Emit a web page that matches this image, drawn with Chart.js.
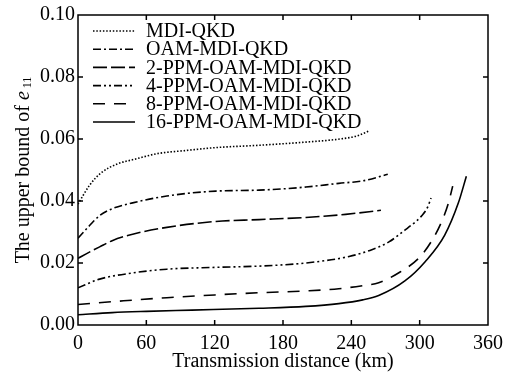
<!DOCTYPE html>
<html>
<head>
<meta charset="utf-8">
<script src="https://cdn.jsdelivr.net/npm/chart.js@4"></script>
<style>
  html, body { margin: 0; padding: 0; background: #fff; }
  #wrap { width: 510px; height: 381px; }
</style>
</head>
<body>
<div id="wrap"><canvas id="chart" width="510" height="381"></canvas></div>
<script>
// Series data (distance in km, upper bound of e11)
const seriesNames = ['MDI-QKD', 'OAM-MDI-QKD', '2-PPM-OAM-MDI-QKD', '4-PPM-OAM-MDI-QKD', '8-PPM-OAM-MDI-QKD', '16-PPM-OAM-MDI-QKD'];

const distMDI = [0, 10, 20, 35, 50, 70, 95, 120, 160, 200, 230, 245, 255];
const valMDI = [0.039, 0.045, 0.049, 0.052, 0.0535, 0.0553, 0.0563, 0.0572, 0.058, 0.059, 0.060, 0.061, 0.0625];

const distOAM = [0, 10, 19, 30, 48, 78, 121, 159, 200, 229, 250, 272];
const valOAM = [0.028, 0.032, 0.0353, 0.0375, 0.0394, 0.0416, 0.0432, 0.0435, 0.0445, 0.0457, 0.0465, 0.0486];

const dist2 = [0, 10, 19, 30, 48, 78, 121, 159, 200, 235, 266];
const val2 = [0.0215, 0.0235, 0.0252, 0.0272, 0.0293, 0.0315, 0.0334, 0.034, 0.0347, 0.0357, 0.037];

const dist4 = [0, 19, 48, 78, 121, 159, 200, 238, 258, 273, 287, 297, 302, 307, 310];
const val4 = [0.012, 0.0148, 0.0168, 0.018, 0.0186, 0.019, 0.020, 0.0221, 0.0243, 0.0268, 0.0306, 0.0335, 0.0353, 0.038, 0.041];

const dist8 = [0, 40, 78, 120, 159, 200, 229, 250, 264, 281, 299, 310, 319, 325, 329];
const val8 = [0.0066, 0.0078, 0.0088, 0.0097, 0.0104, 0.011, 0.0117, 0.0127, 0.0136, 0.0167, 0.0215, 0.0268, 0.0331, 0.039, 0.0448];

const dist16 = [0, 30, 60, 100, 159, 200, 229, 250, 264, 287, 305, 322, 334, 341];
const val16 = [0.0033, 0.004, 0.0044, 0.0048, 0.0054, 0.006, 0.0069, 0.0081, 0.0095, 0.0142, 0.0205, 0.029, 0.0394, 0.048];

const xTicks = [0, 60, 120, 180, 240, 300, 360];
const yTicks = [0, 0.02, 0.04, 0.06, 0.08, 0.10];

const FONT = "'Liberation Serif', 'Times New Roman', serif";
const dashes = [[1.5, 1.8], [8, 3, 2, 3], [14, 4], [8, 3, 2, 3, 2, 3], [12, 9], []];

function toPoints(xs, ys) {
    return xs.map((x, i) => ({ x: x, y: ys[i] }));
}

const allDist = [distMDI, distOAM, dist2, dist4, dist8, dist16];
const allVal = [valMDI, valOAM, val2, val4, val8, val16];

const datasets = seriesNames.map((name, i) => ({
    label: name,
    data: toPoints(allDist[i], allVal[i]),
    borderColor: '#000',
    backgroundColor: '#000',
    borderWidth: 1.6,
    borderDash: dashes[i],
    pointRadius: 0,
    fill: false,
    cubicInterpolationMode: 'monotone'
}));

// Frame with inward ticks, the legend inside the plot, and the rich y-axis title
const framePlugin = {
    id: 'frame',
    afterDraw(chart) {
        const ctx = chart.ctx;
        const a = chart.chartArea;
        const xs = chart.scales.x, ys = chart.scales.y;
        ctx.save();
        ctx.strokeStyle = '#000';
        ctx.lineWidth = 1.5;
        ctx.setLineDash([]);
        ctx.strokeRect(a.left, a.top, a.right - a.left, a.bottom - a.top);
        const len = 5;
        ctx.beginPath();
        xTicks.slice(1, -1).forEach(v => {
            const px = xs.getPixelForValue(v);
            ctx.moveTo(px, a.bottom); ctx.lineTo(px, a.bottom - len);
            ctx.moveTo(px, a.top); ctx.lineTo(px, a.top + len);
        });
        yTicks.slice(1, -1).forEach(v => {
            const py = ys.getPixelForValue(v);
            ctx.moveTo(a.left, py); ctx.lineTo(a.left + len, py);
            ctx.moveTo(a.right, py); ctx.lineTo(a.right - len, py);
        });
        ctx.stroke();

        // legend
        ctx.fillStyle = '#000';
        ctx.textBaseline = 'middle';
        ctx.textAlign = 'left';
        ctx.font = '20px ' + FONT;
        chart.data.datasets.forEach((ds, i) => {
            const y = 31 + i * 18.2;
            const x0 = a.left + 15;
            ctx.lineWidth = 1.6;
            ctx.setLineDash(ds.borderDash);
            ctx.beginPath();
            ctx.moveTo(x0, y);
            ctx.lineTo(x0 + 42, y);
            ctx.stroke();
            ctx.fillText(ds.label, x0 + 53, y + 1);
        });
        ctx.setLineDash([]);

        // y title: "The upper bound of e11"
        const main = 'The upper bound of ';
        const normal = '20px ' + FONT;
        const ital = 'italic 20px ' + FONT;
        const small = '12px ' + FONT;
        ctx.font = normal; const w1 = ctx.measureText(main).width;
        ctx.font = ital; const w2 = ctx.measureText('e').width;
        ctx.font = small; const w3 = ctx.measureText(' 11').width;
        const total = w1 + w2 + w3;
        ctx.translate(24, (a.top + a.bottom) / 2);
        ctx.rotate(-Math.PI / 2);
        let x0 = -total / 2;
        ctx.font = normal; ctx.fillText(main, x0, 0);
        ctx.font = ital; ctx.fillText('e', x0 + w1, 0);
        ctx.font = small; ctx.fillText(' 11', x0 + w1 + w2, 4);
        ctx.restore();
    }
};

new Chart(document.getElementById('chart'), {
    type: 'line',
    data: { datasets: datasets },
    options: {
        responsive: false,
        animation: false,
        layout: { padding: { top: 6, right: 21, left: 0, bottom: 7 } },
        scales: {
            x: {
                type: 'linear',
                min: 0,
                max: 360,
                afterBuildTicks: s => { s.ticks = xTicks.map(v => ({ value: v })); },
                afterFit: s => { s.height = 49; },
                grid: { display: false, drawTicks: false },
                border: { display: false },
                ticks: {
                    color: '#000',
                    padding: 7,
                    maxRotation: 0,
                    font: { family: FONT, size: 20 }
                },
                title: {
                    display: true,
                    text: 'Transmission distance (km)',
                    color: '#000',
                    padding: { top: 0, bottom: 0 },
                    font: { family: FONT, size: 20 }
                }
            },
            y: {
                min: 0,
                max: 0.10,
                afterBuildTicks: s => { s.ticks = yTicks.map(v => ({ value: v })); },
                afterFit: s => { s.width = 78; },
                grid: { display: false, drawTicks: false },
                border: { display: false },
                ticks: {
                    color: '#000',
                    padding: 3,
                    font: { family: FONT, size: 20 },
                    callback: v => v.toFixed(2)
                }
            }
        },
        plugins: {
            tooltip: { enabled: false },
            legend: { display: false }
        }
    },
    plugins: [framePlugin]
});
</script>
</body>
</html>
